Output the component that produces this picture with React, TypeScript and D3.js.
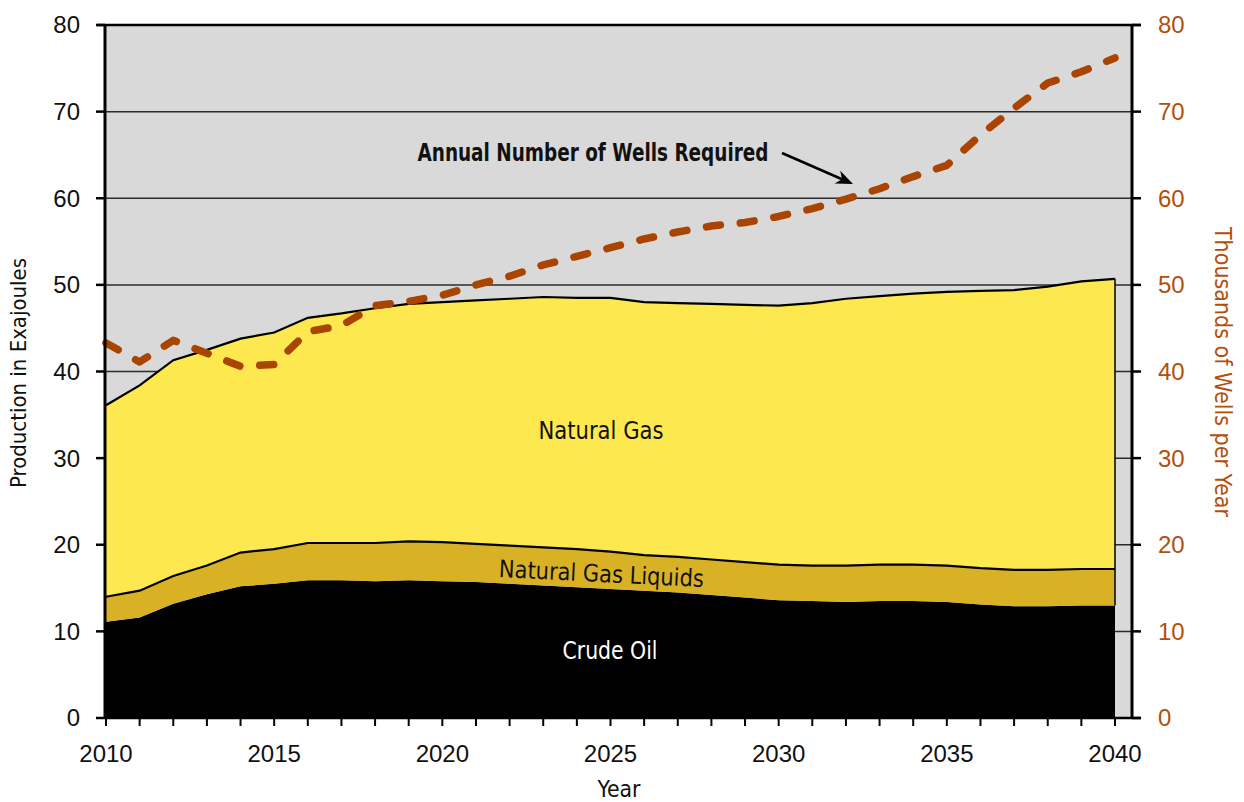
import React from "react";
import * as d3 from "d3";

const years = [2010, 2011, 2012, 2013, 2014, 2015, 2016, 2017, 2018, 2019, 2020, 2021, 2022, 2023, 2024, 2025, 2026, 2027, 2028, 2029, 2030, 2031, 2032, 2033, 2034, 2035, 2036, 2037, 2038, 2039, 2040];
const crudeOil = [11.1, 11.6, 13.2, 14.3, 15.2, 15.5, 15.9, 15.9, 15.8, 15.9, 15.8, 15.7, 15.5, 15.3, 15.1, 14.9, 14.7, 14.5, 14.2, 13.9, 13.6, 13.5, 13.4, 13.5, 13.5, 13.4, 13.1, 12.9, 12.9, 13.0, 13.0];
const naturalGasLiquids = [2.9, 3.1, 3.2, 3.3, 3.9, 4.0, 4.3, 4.3, 4.4, 4.5, 4.5, 4.4, 4.4, 4.4, 4.4, 4.3, 4.1, 4.1, 4.1, 4.1, 4.1, 4.1, 4.2, 4.2, 4.2, 4.2, 4.2, 4.2, 4.2, 4.2, 4.2];
const naturalGas = [22.1, 23.7, 24.9, 24.9, 24.7, 25.0, 26.0, 26.5, 27.1, 27.4, 27.7, 28.1, 28.5, 28.9, 29.0, 29.3, 29.2, 29.3, 29.5, 29.7, 29.9, 30.3, 30.8, 31.0, 31.3, 31.6, 32.0, 32.3, 32.7, 33.2, 33.5];
const wellsPerYear = [43.3, 41.1, 43.6, 42.1, 40.6, 40.8, 44.6, 45.3, 47.6, 48.1, 48.8, 50.0, 51.0, 52.3, 53.3, 54.3, 55.3, 56.1, 56.8, 57.2, 57.9, 58.8, 59.9, 61.1, 62.5, 63.8, 67.3, 70.4, 73.3, 74.6, 76.2];
const yTicks = [0, 10, 20, 30, 40, 50, 60, 70, 80];
const xTickLabels = [2010, 2015, 2020, 2025, 2030, 2035, 2040];

const NARROW = "'Liberation Sans Narrow', 'DejaVu Sans Condensed', 'Roboto Condensed', sans-serif";
const SANS = "'Liberation Sans', Arial, sans-serif";
const ORANGE = "#b34f0b";
const WELLS = "#a94500";

export default function App() {
  const x = d3.scaleLinear().domain([2010, 2040]).range([106, 1115]);
  const y = d3.scaleLinear().domain([0, 80]).range([718, 25]);
  const yR = d3.scaleLinear().domain([0, 80]).range([718, 25]);
  const left = 105;
  const right = 1132;

  const table = years.map((yr, i) => ({
    year: yr,
    crude: crudeOil[i],
    ngl: naturalGasLiquids[i],
    gas: naturalGas[i],
  }));
  const keys = ["crude", "ngl", "gas"];
  const stacked = d3.stack<any>().keys(keys)(table);
  const fills: Record<string, string> = { crude: "#000000", ngl: "#d9b125", gas: "#fde84f" };

  const area = d3
    .area<any>()
    .x((d) => x(d.data.year))
    .y0((d) => y(d[0]))
    .y1((d) => y(d[1]));
  const topLine = d3
    .line<any>()
    .x((d) => x(d.data.year))
    .y((d) => y(d[1]));
  const wellsLine = d3
    .line<number>()
    .x((_, i) => x(years[i]))
    .y((d) => yR(d));

  const last = stacked[2][stacked[2].length - 1];
  const lastCrude = stacked[0][stacked[0].length - 1];

  // arrow annotation
  const ax0 = 782, ay0 = 153, ax1 = 853, ay1 = 184;
  const ang = Math.atan2(ay1 - ay0, ax1 - ax0);
  const hl = 17, hw = 7;
  const bx = ax1 - hl * Math.cos(ang), by = ay1 - hl * Math.sin(ang);
  const nx = -Math.sin(ang), ny = Math.cos(ang);
  const notchX = ax1 - hl * 0.7 * Math.cos(ang), notchY = ay1 - hl * 0.7 * Math.sin(ang);
  const head = `M${ax1},${ay1} L${bx + nx * hw},${by + ny * hw} L${notchX},${notchY} L${bx - nx * hw},${by - ny * hw} Z`;

  return (
    <svg
      width={1244}
      height={802}
      style={{ position: "absolute", left: 0, top: 0, background: "#ffffff" }}
    >
      <rect x={left} y={y(80)} width={right - left} height={y(0) - y(80)} fill="#d9d9d9" />
      {yTicks.filter((t) => t > 0 && t < 80).map((t) => (
        <line key={"g" + t} x1={left} x2={right} y1={y(t)} y2={y(t)} stroke="#2b2b2b" strokeWidth={1.5} />
      ))}

      {stacked.map((s) => (
        <path key={s.key} d={area(s) || ""} fill={fills[s.key]} />
      ))}
      <path d={topLine(stacked[1]) || ""} fill="none" stroke="#000" strokeWidth={2.2} />
      <path d={topLine(stacked[2]) || ""} fill="none" stroke="#000" strokeWidth={2.2} />
      <line x1={x(2040)} x2={x(2040)} y1={y(last[1])} y2={y(lastCrude[1])} stroke="#000" strokeWidth={1.5} />

      <path
        d={wellsLine(wellsPerYear) || ""}
        fill="none"
        stroke={WELLS}
        strokeWidth={7.5}
        strokeDasharray="14 20"
        strokeLinecap="round"
        strokeLinejoin="round"
      />

      {/* axes */}
      <line x1={97} x2={1141} y1={y(80)} y2={y(80)} stroke="#000" strokeWidth={2.5} />
      <line x1={left} x2={1141} y1={y(0)} y2={y(0)} stroke="#000" strokeWidth={2.5} />
      <line x1={left} x2={left} y1={y(80) - 1} y2={y(0) + 1} stroke="#000" strokeWidth={3} />
      <line x1={right} x2={right} y1={y(80) - 1} y2={y(0) + 1} stroke="#000" strokeWidth={3} />
      {yTicks.map((t) => (
        <g key={"t" + t}>
          <line x1={96} x2={left} y1={y(t)} y2={y(t)} stroke="#000" strokeWidth={2.5} />
          <line x1={right} x2={1141} y1={yR(t)} y2={yR(t)} stroke="#000" strokeWidth={2.5} />
          <text x={80} y={y(t)} dy="0.35em" textAnchor="end" fontFamily={SANS} fontSize={24} fill="#111">
            {t}
          </text>
          <text x={1158} y={yR(t)} dy="0.35em" textAnchor="start" fontFamily={SANS} fontSize={24} fill={ORANGE}>
            {t}
          </text>
        </g>
      ))}
      {years.map((yr) => (
        <line key={"xt" + yr} x1={x(yr)} x2={x(yr)} y1={y(0)} y2={y(0) + 8} stroke="#000" strokeWidth={2} />
      ))}
      {xTickLabels.map((yr) => (
        <text key={"xl" + yr} x={x(yr)} y={762} textAnchor="middle" fontFamily={SANS} fontSize={24} fill="#111">
          {yr}
        </text>
      ))}

      {/* axis titles */}
      <text x={619} y={797} textAnchor="middle" fontFamily={NARROW} fontSize={23} fill="#111" textLength={43} lengthAdjust="spacingAndGlyphs">
        Year
      </text>
      <text
        transform="translate(26,373) rotate(-90)"
        textAnchor="middle"
        fontFamily={NARROW}
        fontSize={21}
        fill="#111"
        textLength={230}
        lengthAdjust="spacingAndGlyphs"
      >
        Production in Exajoules
      </text>
      <text
        transform="translate(1215,372) rotate(90)"
        textAnchor="middle"
        fontFamily={NARROW}
        fontSize={23}
        fill={ORANGE}
        textLength={290}
        lengthAdjust="spacingAndGlyphs"
      >
        Thousands of Wells per Year
      </text>

      {/* area labels */}
      <text x={601} y={439} textAnchor="middle" fontFamily={NARROW} fontSize={24} fill="#111" textLength={125} lengthAdjust="spacingAndGlyphs">
        Natural Gas
      </text>
      <text
        transform="translate(601,582) rotate(2.8)"
        textAnchor="middle"
        fontFamily={NARROW}
        fontSize={24}
        fill="#111"
        textLength={205}
        lengthAdjust="spacingAndGlyphs"
      >
        Natural Gas Liquids
      </text>
      <text x={610} y={659} textAnchor="middle" fontFamily={NARROW} fontSize={25} fill="#fff" textLength={95} lengthAdjust="spacingAndGlyphs">
        Crude Oil
      </text>

      {/* annotation */}
      <text x={593} y={161} textAnchor="middle" fontFamily={NARROW} fontWeight="bold" fontSize={25} fill="#111" textLength={351} lengthAdjust="spacingAndGlyphs">
        Annual Number of Wells Required
      </text>
      <line x1={ax0} y1={ay0} x2={notchX} y2={notchY} stroke="#000" strokeWidth={2.5} />
      <path d={head} fill="#000" />
    </svg>
  );
}
